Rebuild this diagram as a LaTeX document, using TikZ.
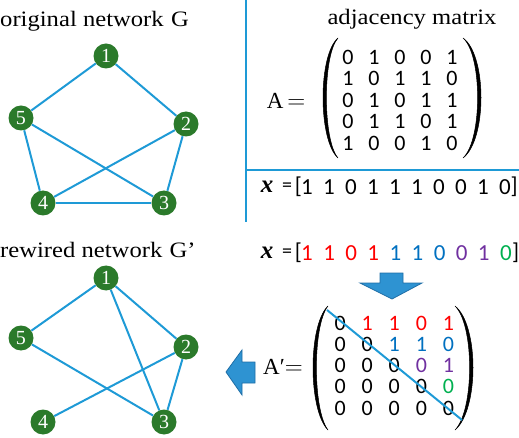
\documentclass[tikz,border=0pt]{standalone}
\usepackage{fontspec}
\setmainfont{Liberation Serif}
\newfontfamily\titlefont[FakeStretch=1.12]{Liberation Serif}
\newfontfamily\calib{Carlito}
\definecolor{edgeblue}{HTML}{1E9AD6}
\definecolor{nodegreen}{HTML}{2B7A2B}
\definecolor{arrowblue}{HTML}{2E93D2}
\definecolor{arrowdark}{HTML}{1F6EA6}
\definecolor{myred}{HTML}{FF0000}
\definecolor{myblue}{HTML}{0070C0}
\definecolor{mypurple}{HTML}{7030A0}
\definecolor{mygreen}{HTML}{00B050}
\begin{document}
\begin{tikzpicture}[x=1pt,y=-1pt,
  vtx/.style={circle,fill=nodegreen,inner sep=0pt,minimum size=25pt,text=white,font=\fontsize{20}{20}\selectfont},
  edge/.style={draw=edgeblue,line width=2pt},
  title/.style={font=\titlefont\fontsize{22}{22}\selectfont,inner sep=0pt},
  mnum/.style={font=\calib\fontsize{22}{22}\selectfont,inner sep=0pt},
  xnum/.style={font=\calib\fontsize{23}{23}\selectfont,inner sep=0pt},
  eqlbl/.style={font=\fontsize{23}{23}\selectfont,inner sep=0pt},
  bigarrow/.style={fill=arrowblue,draw=arrowdark,line width=0.8pt,line join=miter},
  parenshape/.style={fill=black,draw=black,line width=0.5pt}]
\useasboundingbox (0,0) rectangle (519,438);

% dividing lines
\draw[edgeblue,line width=2pt] (246,0) -- (246,222);
\draw[edgeblue,line width=2pt] (246,170) -- (519,170);

% titles
\node[title,anchor=base west] (ttl1) at (0,27) {original network\,\,G};
\node[title,anchor=base west] (ttl2) at (0,258) {rewired network\,\,G’};
\node[title,anchor=base] (ttl3) at (412,25) {adjacency matrix};

% original network
\node[vtx] (t1) at (106,56) {1};
\node[vtx] (t2) at (186,124) {2};
\node[vtx] (t3) at (164,203) {3};
\node[vtx] (t4) at (43,203) {4};
\node[vtx] (t5) at (21,118) {5};
\draw[edge] (t1) -- (t5);
\draw[edge] (t1) -- (t2);
\draw[edge] (t5) -- (t4);
\draw[edge] (t5) -- (t3);
\draw[edge] (t2) -- (t4);
\draw[edge] (t2) -- (t3);
\draw[edge] (t4) -- (t3);

% rewired network
\node[vtx] (b1) at (106,278) {1};
\node[vtx] (b2) at (186,347) {2};
\node[vtx] (b3) at (164,422) {3};
\node[vtx] (b4) at (43,422) {4};
\node[vtx] (b5) at (21,338) {5};
\draw[edge] (b1) -- (b5);
\draw[edge] (b1) -- (b2);
\draw[edge] (b1) -- (b3);
\draw[edge] (b5) -- (b3);
\draw[edge] (b2) -- (b4);
\draw[edge] (b2) -- (b3);

% adjacency matrix A
\node[eqlbl] (Albl) at (286,101) {A\,\(=\)};
\foreach \row [count=\i] in {{0,1,0,0,1},{1,0,1,1,0},{0,1,0,1,1},{0,1,1,0,1},{1,0,0,1,0}}{
  \foreach \v [count=\j] in \row {
    \node[mnum] (a\i\j) at ({322+26*\j},{57+21.5*(\i-1)}) {\v};
  }
}
\path[parenshape] (338,38) .. controls (318,55) and (318,140) .. (338,158)
  .. controls (322.5,140) and (322.5,55) .. cycle;
\path[parenshape] (463,38) .. controls (487,55) and (487,140) .. (463,158)
  .. controls (482.5,140) and (482.5,55) .. cycle;

% x vectors
\foreach \yy/\nm/\rb in {187/xt/510.5,253/xb/512}{
  \node[font=\bfseries\itshape\fontsize{25}{25}\selectfont,inner sep=0pt] (\nm x) at (267,\yy) {x};
  \node[font=\calib\fontsize{20}{20}\selectfont,inner sep=0pt] (\nm eq) at (287,\yy) {=};
  \node[xnum,anchor=east] (\nm lb) at (302,\yy) {[};
  \node[xnum,anchor=west] (\nm rb) at (\rb,\yy) {]};
}
\foreach \v [count=\j] in {1,1,0,1,1,1,0,0,1,0}{
  \node[xnum] (xt\j) at ({307+22*(\j-1)},187) {\v};
}
\foreach \v/\c [count=\j] in {1/myred,1/myred,0/myred,1/myred,1/myblue,1/myblue,0/myblue,0/mypurple,1/mypurple,0/mygreen}{
  \node[xnum,text=\c] (xb\j) at ({307+22.1*(\j-1)},253) {\v};
}

% down arrow
\path[bigarrow] (380,273) -- (403,273) -- (403,283) -- (422,283) -- (392,299) -- (360,283) -- (380,283) -- cycle;

% A' matrix
\node[eqlbl] (Aplbl) at (283,367) {A′\(=\)};
\foreach \row [count=\i] in {
  {0/black,1/myred,1/myred,0/myred,1/myred},
  {0/black,0/black,1/myblue,1/myblue,0/myblue},
  {0/black,0/black,0/black,0/mypurple,1/mypurple},
  {0/black,0/black,0/black,0/black,0/mygreen},
  {0/black,0/black,0/black,0/black,0/black}}{
  \foreach \v/\c [count=\j] in \row {
    \node[mnum,text=\c] (p\i\j) at ({313+27.1*\j},{323+21.25*(\i-1)}) {\v};
  }
}
\path[parenshape] (328,306) .. controls (308,325) and (308,410) .. (328,430)
  .. controls (312.5,410) and (312.5,325) .. cycle;
\path[parenshape] (455,306) .. controls (479,325) and (479,410) .. (455,430)
  .. controls (474.5,410) and (474.5,325) .. cycle;
\draw[edgeblue,line width=2pt] (327,310) -- (462,420);

% left arrow
\path[bigarrow] (255,362) -- (242,362) -- (242,350) -- (226,372) -- (242,395) -- (242,383) -- (255,383) -- cycle;
\end{tikzpicture}
\end{document}
